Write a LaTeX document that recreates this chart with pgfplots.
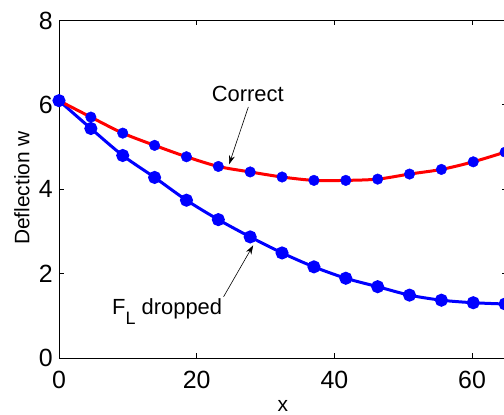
\documentclass[border=0pt]{standalone}
\usepackage{pgfplots}
\pgfplotsset{compat=1.18}
\usepackage{fontspec}
\setmainfont{Liberation Sans}
\usetikzlibrary{arrows.meta}

% deflection along x, correct model
\pgfplotstableread{
x w
0.000 6.10
4.629 5.71
9.257 5.33
13.886 5.04
18.514 4.77
23.143 4.54
27.771 4.41
32.400 4.29
37.029 4.21
41.657 4.21
46.286 4.24
50.914 4.36
55.543 4.47
60.171 4.65
64.800 4.88
}\correct

% F_L dropped
\pgfplotstableread{
x w
0.000 6.10
4.629 5.44
9.257 4.80
13.886 4.28
18.514 3.74
23.143 3.28
27.771 2.87
32.400 2.49
37.029 2.16
41.657 1.89
46.286 1.69
50.914 1.49
55.543 1.37
60.171 1.31
64.800 1.28
}\dropped

\begin{document}
\begin{tikzpicture}
\begin{axis}[
  name=ax,
  scale only axis,
  width=447.5bp, height=337.5bp,
  xmin=0, xmax=65, ymin=0, ymax=8,
  xtick={0,20,40,60}, ytick={0,2,4,6,8},
  tick align=inside,
  major tick length=5bp,
  axis line style={line width=0.8bp},
  every tick/.style={black, line width=0.8bp},
  tick label style={font=\fontsize{25}{25}\selectfont, inner sep=0pt},
  yticklabel style={anchor=east, xshift=-6bp},
  xticklabel style={anchor=north, yshift=-13bp},
  /pgf/number format/assume math mode=true,
  xlabel={x}, ylabel={Deflection w},
  label style={font=\fontsize{21}{21}\selectfont},
  xlabel style={at={(axis description cs:0.5,-0.160)}, anchor=base, inner sep=0pt},
  ylabel style={at={(axis description cs:-0.083,0.504)}, anchor=center},
]
  \addplot[blue, line width=3bp, smooth, mark=*, mark size=5bp,
    mark options={solid, fill=blue, draw=blue}] table {\dropped};
  \addplot[only marks, mark=*, mark size=5.3bp,
    mark options={fill=blue, draw=blue}] table {\correct};
  \addplot[red, line width=3bp, smooth] table {\correct};

  \node[anchor=base west, inner sep=0pt, font=\fontsize{22}{22}\selectfont]
    at (axis cs:22.17,6.07) {Correct};
  \draw[line width=0.6bp, -{Stealth[length=9bp, width=6bp]}]
    (axis cs:27.5,5.95) -- (axis cs:24.7,4.59);

  \node[anchor=base west, inner sep=0pt, font=\fontsize{22}{22}\selectfont]
    at (axis cs:7.70,1.02) {F\raisebox{-10bp}{\fontsize{18}{18}\selectfont L} dropped};
  \draw[line width=0.6bp, -{Stealth[length=9bp, width=6bp]}]
    (axis cs:23.9,1.45) -- (axis cs:28.2,2.67);
\end{axis}
\pgfresetboundingbox
\path ([shift={(-59bp,-57bp)}]ax.south west) rectangle ([shift={(445bp,20.5bp)}]ax.north west);
\end{tikzpicture}
\end{document}
